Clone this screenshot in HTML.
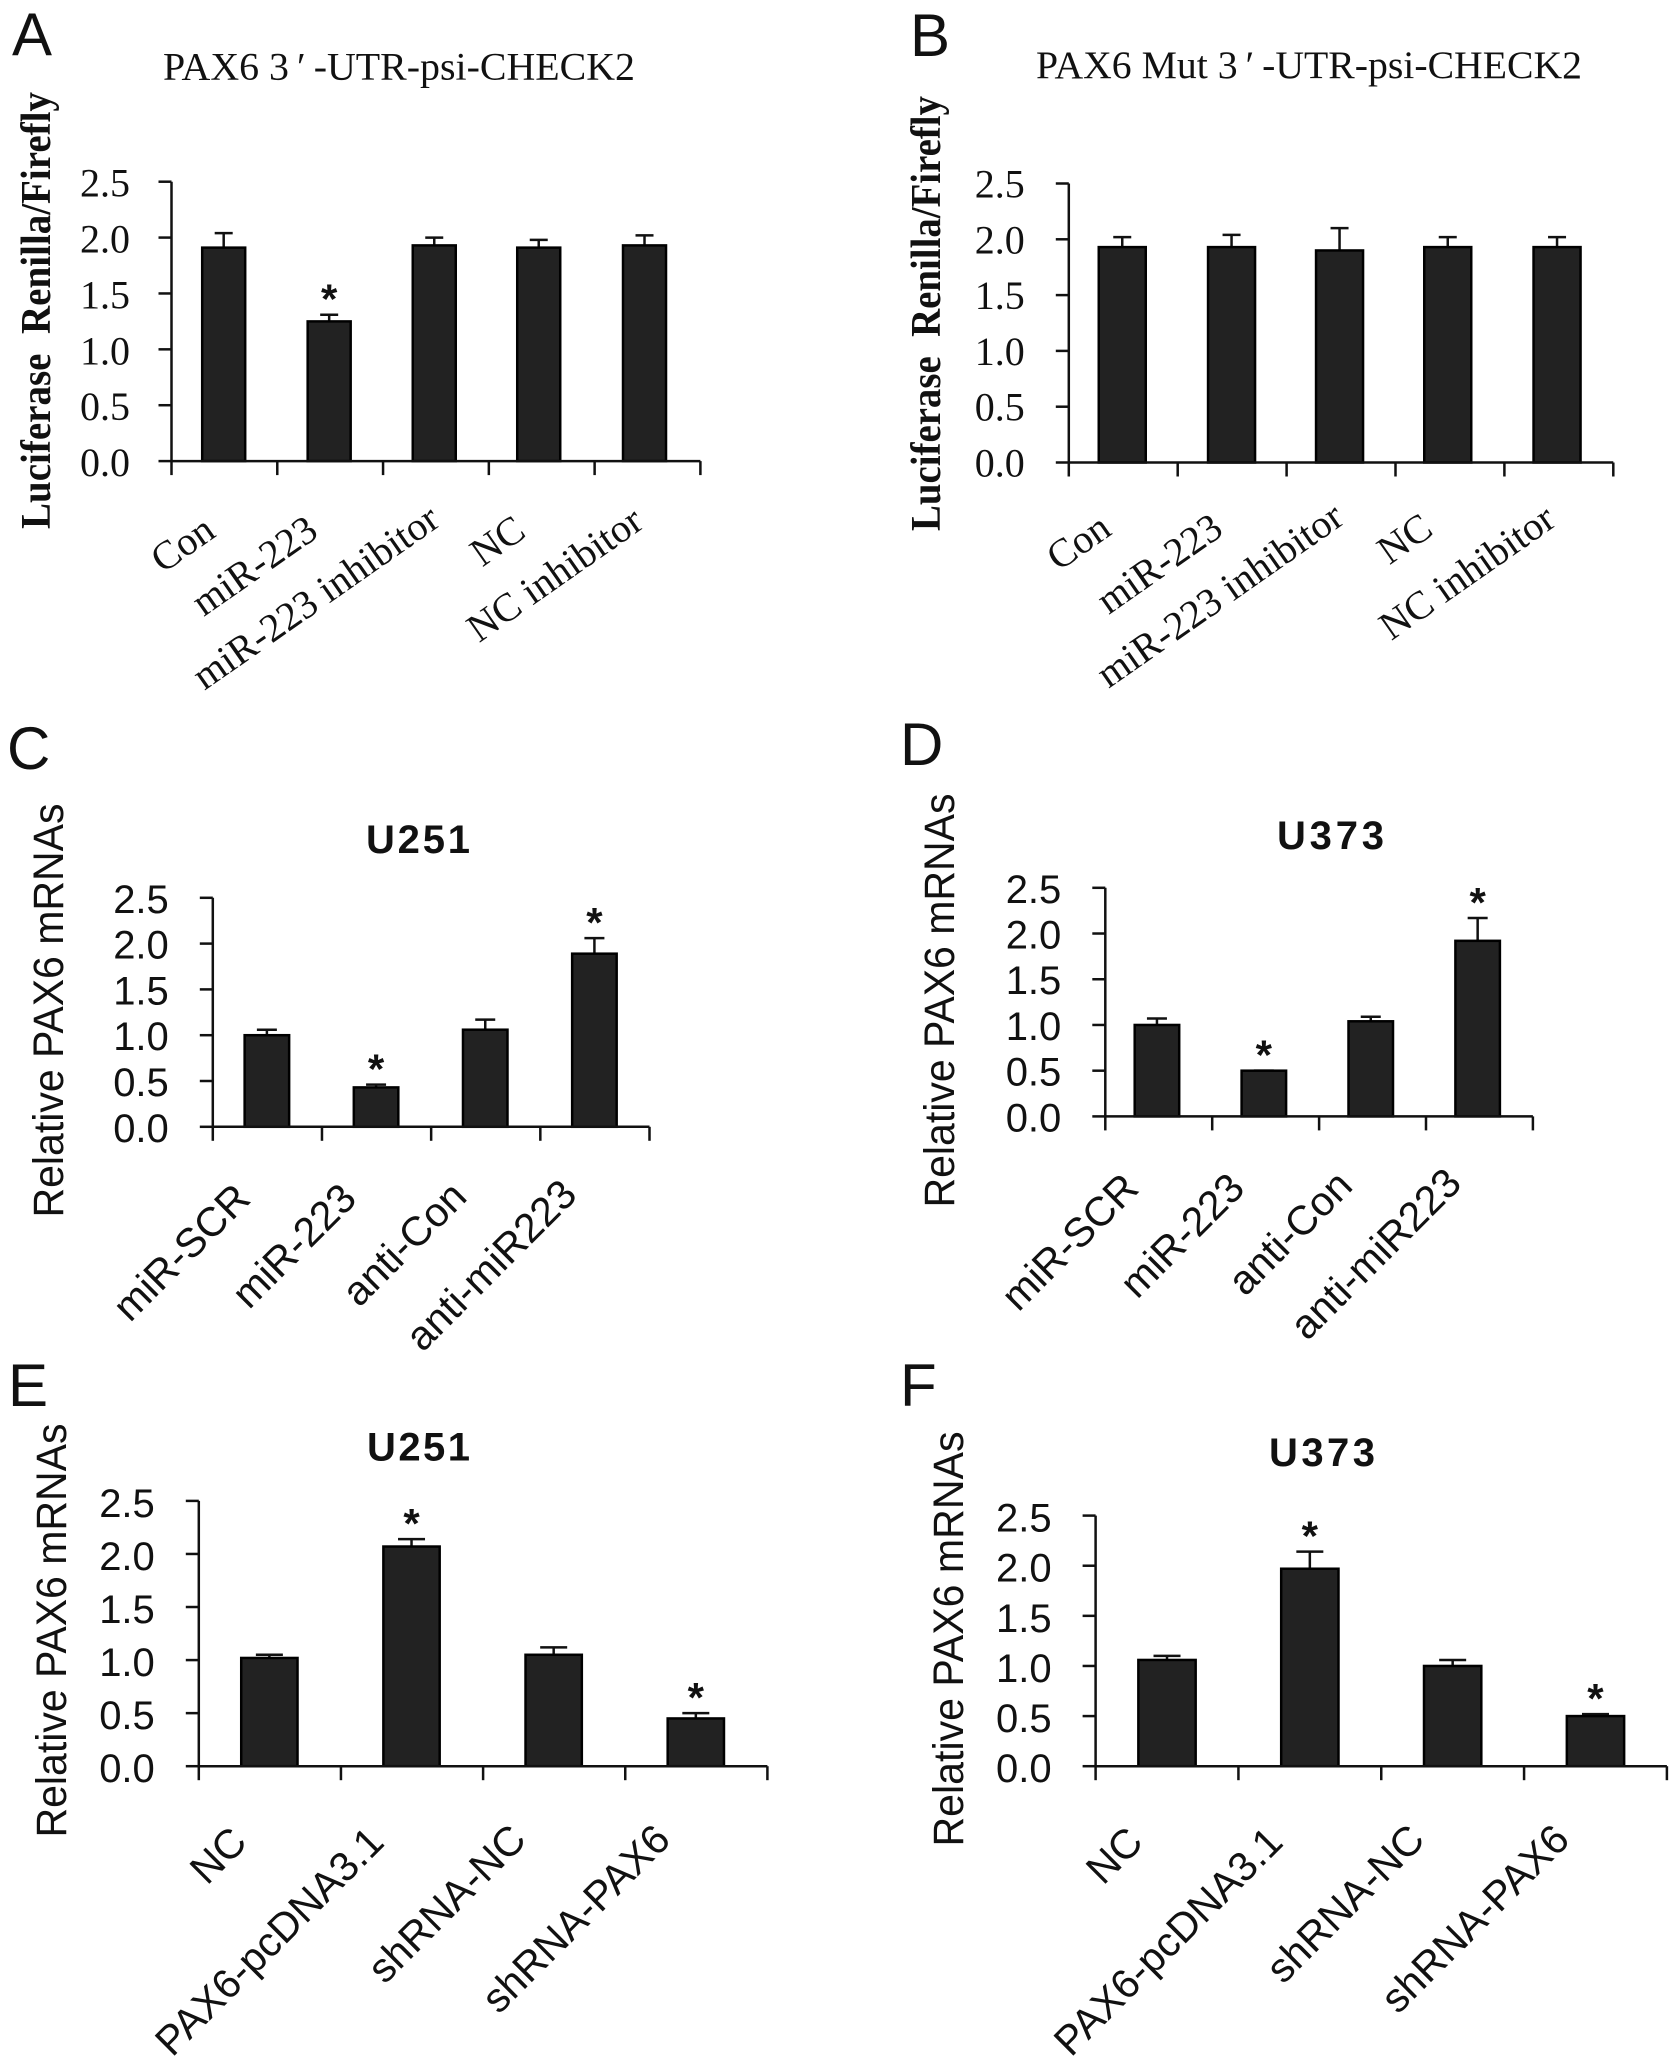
<!DOCTYPE html>
<html lang="en">
<head>
<meta charset="utf-8">
<title>PAX6 luciferase and mRNA bar charts</title>
<style>
  html,body{margin:0;padding:0;background:#fff;}
  svg{display:block;}
  .serif{font-family:"Liberation Serif",serif;fill:#111;}
  .sans{font-family:"Liberation Sans",sans-serif;fill:#111;}
</style>
</head>
<body>
<svg id="figure" xmlns="http://www.w3.org/2000/svg" width="1677" height="2068" viewBox="0 0 1677 2068">
  <rect width="1677" height="2068" fill="#fff"/>

  <text class="sans" x="12" y="55" font-size="60">A</text>
  <text class="sans" x="910" y="56" font-size="60">B</text>
  <text class="sans" x="7" y="769" font-size="60">C</text>
  <text class="sans" x="900" y="765" font-size="60">D</text>
  <text class="sans" x="8" y="1406" font-size="60">E</text>
  <text class="sans" x="900" y="1406" font-size="60">F</text>

  <text class="serif" x="163" y="79.5" font-size="39.5" textLength="472" lengthAdjust="spacingAndGlyphs">PAX6 3&#8201;′&#8201;-UTR-psi-CHECK2</text>
  <text class="serif" x="1036" y="78" font-size="39.5" textLength="546" lengthAdjust="spacingAndGlyphs">PAX6 Mut 3&#8201;′&#8201;-UTR-psi-CHECK2</text>
  <text class="sans" font-weight="bold" x="366" y="853" font-size="40" textLength="104" lengthAdjust="spacing">U251</text>
  <text class="sans" font-weight="bold" x="1277" y="849" font-size="40" textLength="107" lengthAdjust="spacing">U373</text>
  <text class="sans" font-weight="bold" x="367" y="1460.5" font-size="40" textLength="103" lengthAdjust="spacing">U251</text>
  <text class="sans" font-weight="bold" x="1269" y="1466" font-size="40" textLength="106" lengthAdjust="spacing">U373</text>

  <text class="serif" font-weight="bold" transform="translate(50,529) rotate(-90)" font-size="42" textLength="437" lengthAdjust="spacingAndGlyphs" xml:space="preserve">Luciferase&#160;&#160;Renilla/Firefly</text>
  <text class="serif" font-weight="bold" transform="translate(940,531) rotate(-90)" font-size="42" textLength="435" lengthAdjust="spacingAndGlyphs" xml:space="preserve">Luciferase&#160;&#160;Renilla/Firefly</text>
  <text class="sans" transform="translate(63,1217.5) rotate(-90)" font-size="43" textLength="414" lengthAdjust="spacingAndGlyphs">Relative PAX6 mRNAs</text>
  <text class="sans" transform="translate(954,1207.5) rotate(-90)" font-size="43" textLength="414" lengthAdjust="spacingAndGlyphs">Relative PAX6 mRNAs</text>
  <text class="sans" transform="translate(66,1837.5) rotate(-90)" font-size="43" textLength="414" lengthAdjust="spacingAndGlyphs">Relative PAX6 mRNAs</text>
  <text class="sans" transform="translate(963,1846.5) rotate(-90)" font-size="43" textLength="415" lengthAdjust="spacingAndGlyphs">Relative PAX6 mRNAs</text>
</svg>

<script>
// ---- chart data ----
const yTickLabels = ['0.0', '0.5', '1.0', '1.5', '2.0', '2.5'];
const yTickValues = [0, 0.5, 1, 1.5, 2, 2.5];

const categoriesA = ['Con', 'miR-223', 'miR-223 inhibitor', 'NC', 'NC inhibitor'];
const valuesA = [1.91, 1.25, 1.93, 1.91, 1.93];
const errorTopsA = [2.04, 1.31, 2.00, 1.98, 2.02];
const significantA = [false, true, false, false, false];

const categoriesB = ['Con', 'miR-223', 'miR-223 inhibitor', 'NC', 'NC inhibitor'];
const valuesB = [1.93, 1.93, 1.90, 1.93, 1.93];
const errorTopsB = [2.02, 2.04, 2.10, 2.02, 2.02];
const significantB = [false, false, false, false, false];

const categoriesC = ['miR-SCR', 'miR-223', 'anti-Con', 'anti-miR223'];
const valuesC = [1.00, 0.43, 1.06, 1.89];
const errorTopsC = [1.06, 0.46, 1.17, 2.06];
const significantC = [false, true, false, true];

const categoriesD = ['miR-SCR', 'miR-223', 'anti-Con', 'anti-miR223'];
const valuesD = [1.00, 0.50, 1.04, 1.92];
const errorTopsD = [1.07, 0.50, 1.09, 2.17];
const significantD = [false, true, false, true];

const categoriesE = ['NC', 'PAX6-pcDNA3.1', 'shRNA-NC', 'shRNA-PAX6'];
const valuesE = [1.02, 2.07, 1.05, 0.45];
const errorTopsE = [1.05, 2.14, 1.12, 0.50];
const significantE = [false, true, false, true];

const categoriesF = ['NC', 'PAX6-pcDNA3.1', 'shRNA-NC', 'shRNA-PAX6'];
const valuesF = [1.06, 1.97, 1.00, 0.50];
const errorTopsF = [1.10, 2.14, 1.06, 0.52];
const significantF = [false, true, false, true];

// ---- layout for each panel ----
const SERIF = '"Liberation Serif", serif';
const SANS = '"Liberation Sans", sans-serif';
const panels = [
  { id: 'a', categories: categoriesA, values: valuesA, errorTops: errorTopsA, significant: significantA,
    left: 171.5, right: 700.4, bottom: 461.1, top: 181.7, barWidth: 43, capWidth: 18, font: SERIF,
    tickSize: 40, labelSize: 40, labelAngle: 35, tickGap: 41.5, tickDrop: 15,
    barDx: [-0.7, -1, -1.7, -3, -3],
    endDx: [-7, -10, 6, -14, -2], endDy: [74.5, 74.5, 63.5, 74.5, 65.5] },
  { id: 'b', categories: categoriesB, values: valuesB, errorTops: errorTopsB, significant: significantB,
    left: 1068.8, right: 1613.3, bottom: 462.5, top: 183.5, barWidth: 47, capWidth: 18, font: SERIF,
    tickSize: 40, labelSize: 40, labelAngle: 35, tickGap: 44, tickDrop: 14,
    barDx: [-1, -0.6, -1.5, -2.2, -1.8],
    endDx: [-10, -7, 5, -15, -1], endDy: [71, 71, 60, 71, 62] },
  { id: 'c', categories: categoriesC, values: valuesC, errorTops: errorTopsC, significant: significantC,
    left: 212.8, right: 649.5, bottom: 1126.8, top: 897.8, barWidth: 44.5, capWidth: 20, font: SANS,
    tickSize: 40, labelSize: 41, labelAngle: 45, tickGap: 44, tickDrop: 15,
    barDx: [-0.5, -0.5, -0.5, -0.5],
    endDx: [-15, -18, -17, -16], endDy: [74, 74, 72, 70] },
  { id: 'd', categories: categoriesD, values: valuesD, errorTops: errorTopsD, significant: significantD,
    left: 1105.3, right: 1532.9, bottom: 1116.4, top: 887.8, barWidth: 44.5, capWidth: 20, font: SANS,
    tickSize: 40, labelSize: 41, labelAngle: 45, tickGap: 44, tickDrop: 15,
    barDx: [-1.8, -1.8, -1.8, -1.8],
    endDx: [-18, -19, -18, -16], endDy: [74, 74, 71.5, 69] },
  { id: 'e', categories: categoriesE, values: valuesE, errorTops: errorTopsE, significant: significantE,
    left: 198.8, right: 767.4, bottom: 1766.2, top: 1500.9, barWidth: 56.3, capWidth: 27, font: SANS,
    tickSize: 40, labelSize: 41, labelAngle: 45, tickGap: 44, tickDrop: 16,
    barDx: [-0.5, -0.5, -0.5, -0.5],
    endDx: [-21, -26, -26, -24], endDy: [78, 78, 75.5, 75.5] },
  { id: 'f', categories: categoriesF, values: valuesF, errorTops: errorTopsF, significant: significantF,
    left: 1095.6, right: 1666.9, bottom: 1766.2, top: 1515.6, barWidth: 57.3, capWidth: 27, font: SANS,
    tickSize: 40, labelSize: 41, labelAngle: 45, tickGap: 44, tickDrop: 16,
    barDx: [0, 0, 0, 0],
    endDx: [-22, -25, -26, -24], endDy: [78, 78, 75.5, 75.5] }
];

const NS = 'http://www.w3.org/2000/svg';
const figure = document.getElementById('figure');
const INK = '#111';
const BAR_FILL = '#222';
const Y_MAX = 2.5;
const Y_TICK_LENGTH = 13;
const X_TICK_LENGTH = 14;
const STAR_GAP = 25;
const STAR_SIZE = 42;
const LINE_WIDTH = 2.5;

function addLine(parent, x1, y1, x2, y2, width) {
  const line = document.createElementNS(NS, 'line');
  line.setAttribute('x1', x1);
  line.setAttribute('y1', y1);
  line.setAttribute('x2', x2);
  line.setAttribute('y2', y2);
  line.setAttribute('stroke', INK);
  line.setAttribute('stroke-width', width);
  parent.appendChild(line);
  return line;
}

function drawPanel(p) {
  const yScale = v => p.bottom - (v / Y_MAX) * (p.bottom - p.top);
  const band = (p.right - p.left) / p.categories.length;
  const xCenter = i => p.left + band * (i + 0.5);
  const xBar = i => xCenter(i) + p.barDx[i];

  const group = document.createElementNS(NS, 'g');
  
  
  figure.appendChild(group);

  // error bars sit behind the bars
  p.categories.forEach((cat, i) => {
    const stem = addLine(group, xBar(i), yScale(p.errorTops[i]), xBar(i), yScale(p.values[i]), LINE_WIDTH);
    
    
    const cap = addLine(group, xBar(i) - p.capWidth / 2, yScale(p.errorTops[i]), xBar(i) + p.capWidth / 2, yScale(p.errorTops[i]), LINE_WIDTH);
    
    
  });

  // bars
  p.categories.forEach((cat, i) => {
    const bar = document.createElementNS(NS, 'rect');
    
    
    bar.setAttribute('x', xBar(i) - p.barWidth / 2);
    bar.setAttribute('y', yScale(p.values[i]));
    bar.setAttribute('width', p.barWidth);
    bar.setAttribute('height', p.bottom - yScale(p.values[i]));
    bar.setAttribute('fill', BAR_FILL);
    bar.setAttribute('stroke', '#000');
    bar.setAttribute('stroke-width', LINE_WIDTH);
    group.appendChild(bar);
  });

  // axes
  const yAxis = addLine(group, p.left, p.top, p.left, p.bottom, LINE_WIDTH);
  
  
  const xAxis = addLine(group, p.left, p.bottom, p.right, p.bottom, LINE_WIDTH);
  
  

  // y ticks and labels
  yTickValues.forEach((v, i) => {
    const tick = addLine(group, p.left - Y_TICK_LENGTH, yScale(v), p.left, yScale(v), LINE_WIDTH);
    
    
    const label = document.createElementNS(NS, 'text');
    
    
    label.setAttribute('text-anchor', 'end');
    label.setAttribute('font-family', p.font);
    label.setAttribute('font-size', p.tickSize);
    label.setAttribute('fill', INK);
    label.setAttribute('x', p.left - p.tickGap);
    label.setAttribute('y', yScale(v) + p.tickDrop);
    label.textContent = yTickLabels[i];
    group.appendChild(label);
  });

  // x ticks
  for (let i = 0; i <= p.categories.length; i++) {
    const x = p.left + band * i;
    const tick = addLine(group, x, p.bottom, x, p.bottom + X_TICK_LENGTH, LINE_WIDTH);
    
    
  }

  // x labels and significance stars
  p.categories.forEach((cat, i) => {
    const label = document.createElementNS(NS, 'text');
    
    
    label.setAttribute('text-anchor', 'end');
    label.setAttribute('font-family', p.font);
    label.setAttribute('font-size', p.labelSize);
    label.setAttribute('fill', INK);
    label.setAttribute('transform', 'translate(' + (xCenter(i) + p.endDx[i]) + ',' + (p.bottom + p.endDy[i]) + ') rotate(' + (-p.labelAngle) + ')');
    label.textContent = cat;
    group.appendChild(label);

    if (p.significant[i]) {
      const star = document.createElementNS(NS, 'text');
      
      
      star.setAttribute('text-anchor', 'middle');
      star.setAttribute('font-family', SANS);
      star.setAttribute('font-weight', 'bold');
      star.setAttribute('font-size', STAR_SIZE);
      star.setAttribute('fill', INK);
      star.setAttribute('x', xBar(i));
      star.setAttribute('y', yScale(p.errorTops[i]) - STAR_GAP + STAR_SIZE * 0.57);
      star.textContent = '*';
      group.appendChild(star);
    }
  });
}

panels.forEach(drawPanel);
</script>
</body>
</html>
